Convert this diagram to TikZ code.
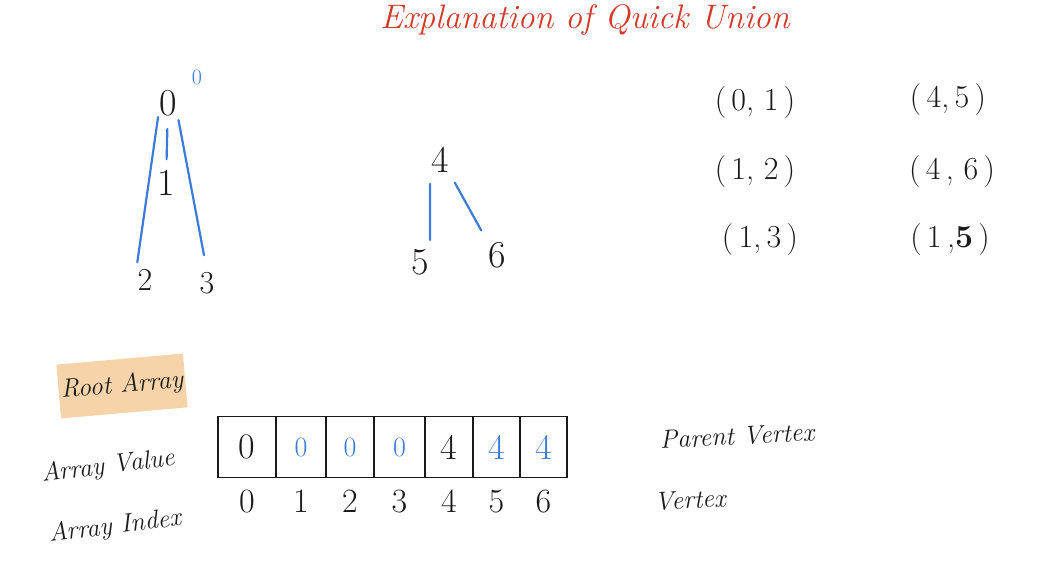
\documentclass[tikz,border=0pt]{standalone}
\usepackage{tikz}
\usetikzlibrary{positioning}
\definecolor{ink}    {HTML}{1A1A1A}
\definecolor{penblue}{HTML}{3D7BD9}
\definecolor{penred} {HTML}{D23A2A}
\definecolor{marker} {HTML}{F6D3A8}
\tikzset{
  titletext/.style ={font=\fontsize{34}{40}\selectfont\itshape, text=penred},
  handlabel/.style ={font=\fontsize{26}{31}\selectfont\itshape, text=ink, inner sep=2pt},
  treedigit/.style ={font=\fontsize{38}{44}\selectfont, text=ink, inner sep=1pt},
  leafdigit/.style ={font=\fontsize{32}{38}\selectfont, text=ink, inner sep=1pt},
  tagdigit/.style  ={font=\fontsize{22}{26}\selectfont, text=penblue, inner sep=0pt},
  pairtext/.style  ={font=\fontsize{32}{38}\selectfont, text=ink, inner sep=1pt},
  edge/.style      ={draw=penblue, line width=2.2pt, line cap=round},
  cell/.style      ={draw=ink, line width=1.8pt, minimum height=61pt, inner sep=0pt},
  cellbig/.style   ={font=\fontsize{36}{42}\selectfont},
  cellsmall/.style ={font=\fontsize{28}{34}\selectfont},
  idxdigit/.style  ={font=\fontsize{34}{40}\selectfont, text=ink, inner sep=1pt},
  markbox/.style   ={fill=marker, minimum width=127pt, minimum height=54pt, inner sep=2pt,
                     font=\fontsize{26}{31}\selectfont\itshape, text=ink},
}
\begin{document}
\begin{tikzpicture}[x=1pt,y=-1pt]
  \useasboundingbox[fill=white] (0,0) rectangle (1038,572);

  \node[titletext] (title) at (585,20) {Explanation of Quick Union};

  % first tree
  \node[treedigit] (a0) at (168,103) {0};
  \node[tagdigit]  (a0tag) at (197,77) {0};
  \node[treedigit] (a1) at (166,183) {1};
  \node[leafdigit] (a2) at (145,280) {2};
  \node[leafdigit] (a3) at (207,283) {3};
  \draw[edge, shorten <=12pt, shorten >=10pt] (a0) -- (a1);
  \draw[edge, shorten >=6pt] (a0.south west) -- (a2.north west);
  \draw[edge, shorten <=3pt, shorten >=16pt] (a0.south east) -- (a3.north);

  % second tree
  \node[treedigit] (b4) at (440,160) {4};
  \node[treedigit] (b5) at (420,262) {5};
  \node[treedigit] (b6) at (497,255) {6};
  \draw[edge, shorten <=10pt, shorten >=8pt] (b4.south west) -- (b5.north east);
  \draw[edge, shorten <=10pt, shorten >=12pt] (b4.south east) -- (b6.north west);

  % pairs
  \node[pairtext] (p01) at (755,103) {(\,0,\ 1\,)};
  \node[pairtext] (p12) at (755,172) {(\,1,\ 2\,)};
  \node[pairtext] (p13) at (760,240) {(\,1,\,3\,)};
  \node[pairtext] (p45) at (948,100) {(\,4,\,5\,)};
  \node[pairtext] (p46) at (952,172) {(\,4\,,\ 6\,)};
  \node[pairtext] (p15) at (950,240) {(\,1\,,\textbf{5}\,)};

  % root array
  \node[markbox, rotate=5] (root) at (122,386) {Root Array};
  \foreach \l/\r/\v/\c/\s [count=\i from 0] in
      {218/276/0/ink/cellbig, 276/326/0/penblue/cellsmall, 326/374/0/penblue/cellsmall,
       374/425/0/penblue/cellsmall, 425/473/4/ink/cellbig, 473/520/4/penblue/cellbig,
       520/567/4/penblue/cellbig}{
    \node[cell, \s, text=\c, minimum width={(\r-\l)*1pt}] (c\i) at ({(\l+\r)/2},447) {\v};
    \node[idxdigit, below=10pt of c\i] (i\i) {\i};
  }

  \node[handlabel, rotate=7] (vallbl) at (108,467) {Array Value};
  \node[handlabel, rotate=7] (idxlbl) at (115,527) {Array Index};
  \node[handlabel, rotate=3] (parlbl) at (737,436) {Parent Vertex};
  \node[handlabel, rotate=3] (vtxlbl) at (690,500) {Vertex};
\end{tikzpicture}
\end{document}
